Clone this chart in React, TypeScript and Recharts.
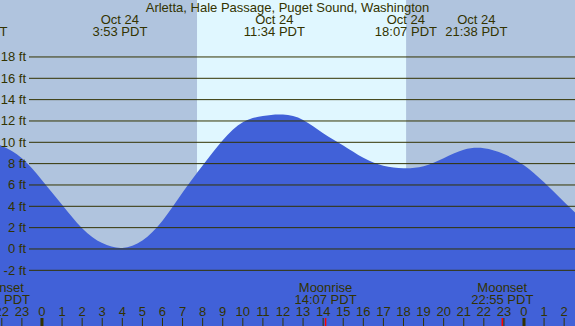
import { AreaChart, Area, XAxis, YAxis, ReferenceArea } from "recharts";

// tide heights (ft), hours from Oct 24 00:00 PDT
const tideHours = [-3, -2, -1, 0, 1, 2, 3, 4, 5, 6, 7, 8, 9, 10, 11, 12, 13, 14, 15, 16, 17, 18, 19, 20, 21, 22, 23, 24, 25, 26, 27];
const tideFeet = [10.2, 9.65, 8.5, 6.45, 4.15, 1.95, 0.55, 0.1, 0.8, 2.65, 5.3, 7.82, 10.2, 11.88, 12.47, 12.6, 12.1, 10.85, 9.7, 8.55, 7.8, 7.56, 7.75, 8.5, 9.3, 9.45, 8.9, 7.85, 6.25, 4.4, 2.6];

const extremeHours = [-3.27, 3.88, 11.57, 18.12, 21.63];
const extremeDates = ["Oct 23", "Oct 24", "Oct 24", "Oct 24", "Oct 24"];
const extremeTimes = ["20:44 PDT", "3:53 PDT", "11:34 PDT", "18:07 PDT", "21:38 PDT"];

const moonHours = [-2.14, 14.12, 22.92];
const moonEvents = ["Moonset", "Moonrise", "Moonset"];
const moonTimes = ["21:52 PDT", "14:07 PDT", "22:55 PDT"];

const hourTicks = [-2, -1, 0, 1, 2, 3, 4, 5, 6, 7, 8, 9, 10, 11, 12, 13, 14, 15, 16, 17, 18, 19, 20, 21, 22, 23, 24, 25, 26];
const feetTicks = [-2, 0, 2, 4, 6, 8, 10, 12, 14, 16, 18];

const sunriseHour = 7.72;
const sunsetHour = 18.13;

const title = "Arletta, Hale Passage, Puget Sound, Washington";

const W = 575;
const H = 326;
const ink = "#333300";
const font = "'Liberation Sans', Arial, sans-serif";

const data = tideHours.map((h, i) => ({ h, ft: tideFeet[i] }));

function FeetTick({ y, payload }: any) {
  return (
    <g>
      <line x1={29} x2={W} y1={y} y2={y} stroke={ink} strokeWidth={1} />
      <text x={26} y={y + 4.5} textAnchor="end" fill={ink} fontSize={13} fontFamily={font}>
        {payload.value} ft
      </text>
    </g>
  );
}

function HourTick({ x, payload }: any) {
  const v = payload.value as number;
  const label = ((v % 24) + 24) % 24;
  const midnight = label === 0;
  return (
    <g>
      <text x={x} y={316} textAnchor="middle" fill={ink} fontSize={13} fontFamily={font}>
        {label}
      </text>
      <line x1={x} x2={x} y1={318} y2={H} stroke={ink} strokeWidth={midnight ? 3 : 1} />
    </g>
  );
}

function ExtremeTick({ x, payload }: any) {
  const i = extremeHours.indexOf(payload.value);
  return (
    <g fill={ink} fontSize={13} fontFamily={font}>
      <text x={x} y={24} textAnchor="middle">{extremeDates[i]}</text>
      <text x={x} y={36} textAnchor="middle">{extremeTimes[i]}</text>
    </g>
  );
}

function MoonTick({ x, payload }: any) {
  const i = moonHours.indexOf(payload.value);
  return (
    <g>
      <text x={x} y={292} textAnchor="middle" fill={ink} fontSize={13} fontFamily={font}>{moonEvents[i]}</text>
      <text x={x} y={304} textAnchor="middle" fill={ink} fontSize={13} fontFamily={font}>{moonTimes[i]}</text>
      <line x1={x} x2={x} y1={318} y2={H} stroke="#ff0000" strokeWidth={1.5} />
    </g>
  );
}

export default function App() {
  return (
    <div style={{ width: W, height: H, background: "#b0c4de", position: "relative" }}>
      <style>{"body{margin:0}"}</style>
      <AreaChart width={W} height={H} data={data} margin={{ top: 0, right: 0, bottom: 0, left: 0 }}>
        <XAxis xAxisId="h" dataKey="h" type="number" domain={[-2.09, 26.54]} allowDataOverflow mirror
          ticks={hourTicks} interval={0} height={30} axisLine={false} tickLine={false} tick={<HourTick />} />
        <XAxis xAxisId="m" dataKey="h" type="number" domain={[-2.09, 26.54]} allowDataOverflow mirror
          ticks={moonHours} interval={0} height={30} axisLine={false} tickLine={false} tick={<MoonTick />} />
        <XAxis xAxisId="e" dataKey="h" type="number" orientation="top" domain={[-2.09, 26.54]} allowDataOverflow mirror
          ticks={extremeHours} interval={0} height={30} axisLine={false} tickLine={false} tick={<ExtremeTick />} />
        <YAxis type="number" domain={[-7.22, 23.34]} allowDataOverflow ticks={feetTicks} interval={0} mirror
          width={30} axisLine={false} tickLine={false} tick={<FeetTick />} />
        <ReferenceArea xAxisId="h" x1={sunriseHour} x2={sunsetHour} fill="#e0f7ff" fillOpacity={1} stroke="none" ifOverflow="hidden" zIndex={-10} />
        <Area xAxisId="h" type="natural" dataKey="ft" stroke="none" fill="#4161d8" fillOpacity={1}
          baseValue="dataMin" isAnimationActive={false} dot={false} activeDot={false} />
      </AreaChart>
      <div style={{ position: "absolute", top: 0, left: 0, width: W, textAlign: "center", fontFamily: font, fontSize: 13, color: ink, lineHeight: "15px" }}>
        {title}
      </div>
    </div>
  );
}
